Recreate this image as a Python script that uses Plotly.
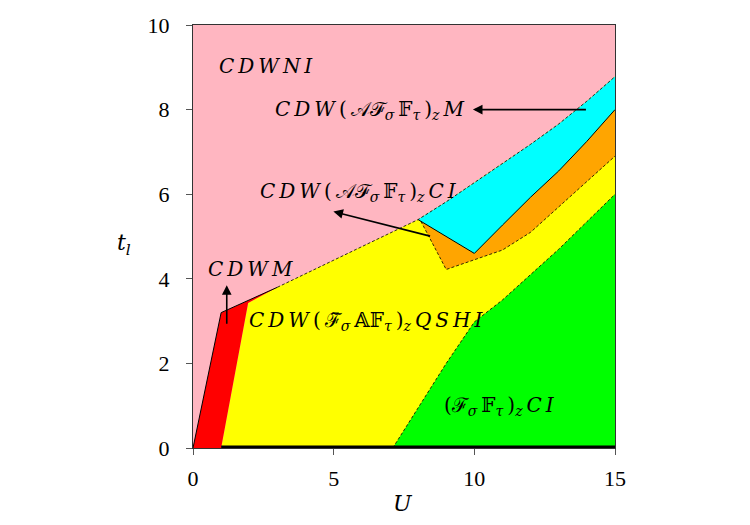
import plotly.graph_objects as go

# ---- data ----
red_x = [0, 1, 3, 1.96, 1]
red_y = [0, 3.2, 3.8, 3.43, 0]

yellow_left_x = [1, 1.96, 3]
yellow_left_y = [0, 3.43, 3.8]

pink_lower_x = [3, 4, 5, 6, 7, 8]
pink_lower_y = [3.8, 4.12, 4.44, 4.76, 5.08, 5.4]

cyan_top_x = [8, 9, 10, 11, 12, 13, 14, 15]
cyan_top_y = [5.4, 5.82, 6.27, 6.72, 7.18, 7.66, 8.2, 8.78]

cyan_bot_x = [8, 10, 11, 12, 13, 14, 15]
cyan_bot_y = [5.4, 4.6, 5.27, 5.93, 6.55, 7.25, 8.0]

orange_bot_x = [8.1, 9, 10, 11, 12, 13, 14, 15]
orange_bot_y = [5.36, 4.22, 4.45, 4.68, 5.1, 5.7, 6.3, 6.9]

green_top_x = [7.1, 8, 9, 10, 11, 12, 13, 14, 15]
green_top_y = [0, 0.95, 2.0, 2.98, 3.5, 4.1, 4.7, 5.35, 6.0]

x_max, y_min = 15, 0
bottom_line_x = [1, 15]
bottom_line_y = [0, 0]

T = "\u2009"  # thin space for TeX-like spacing
S = lambda s: "<sub><i>" + s + "</i></sub>"
labels = [
    ("<i>C" + T + "D" + T + "W" + T + "N" + T + "I</i>", 2.6, 9.03),
    ("<i>C" + T + "D" + T + "W</i>" + T + "(" + T + "𝒜ℱ" + S("σ") + T + "𝔽" + S("τ") + T + ")" + S("z") + T + "<i>M</i>", 6.29, 8.0),
    ("<i>C" + T + "D" + T + "W</i>" + T + "(" + T + "𝒜ℱ" + S("σ") + T + "𝔽" + S("τ") + T + ")" + S("z") + T + "<i>C" + T + "I</i>", 5.87, 6.05),
    ("<i>C" + T + "D" + T + "W" + T + "M</i>", 2.03, 4.23),
    ("<i>C" + T + "D" + T + "W</i>" + T + "(" + T + "ℱ̃" + S("σ") + T + "𝔸𝔽" + S("τ") + T + ")" + S("z") + T + "<i>Q" + T + "S" + T + "H" + T + "I</i>", 6.15, 3.0),
    ("(ℱ" + S("σ") + T + "𝔽" + S("τ") + T + ")" + S("z") + T + "<i>C" + T + "I</i>", 10.9, 0.99),
]

# arrows: (tail_x, tail_y, head_x, head_y)
arrows = [
    (1.2, 2.9, 1.2, 3.85),
    (8.48, 5.0, 4.99, 5.59),
    (14.02, 8.0, 9.95, 8.0),
]

PINK = "#FFB6C1"
RED = "#FF0000"
YELLOW = "#FFFF00"
CYAN = "#00FFFF"
ORANGE = "#FFA500"
GREEN = "#00FF00"

fig = go.Figure()

def poly(xs, ys, color):
    fig.add_trace(go.Scatter(x=xs, y=ys, fill="toself", fillcolor=color,
                             mode="lines", line=dict(width=0, color=color),
                             hoverinfo="skip", showlegend=False))

def line(xs, ys, dash="solid", width=0.9):
    fig.add_trace(go.Scatter(x=xs, y=ys, mode="lines",
                             line=dict(color="black", width=width, dash=dash),
                             hoverinfo="skip", showlegend=False))

# yellow region
yx = yellow_left_x + pink_lower_x[1:] + cyan_top_x[1:] + [x_max]
yy = yellow_left_y + pink_lower_y[1:] + cyan_top_y[1:] + [y_min]
poly(yx, yy, YELLOW)

# green
poly(green_top_x + [x_max], green_top_y + [y_min], GREEN)

# orange
ox = orange_bot_x + cyan_bot_x[::-1][:-1]
oy = orange_bot_y + cyan_bot_y[::-1][:-1]
poly(ox, oy, ORANGE)

# cyan
poly(cyan_top_x + cyan_bot_x[::-1], cyan_top_y + cyan_bot_y[::-1], CYAN)

# red
poly(red_x, red_y, RED)

DASH = "3px,2px"
line(pink_lower_x + cyan_top_x[1:], pink_lower_y + cyan_top_y[1:], DASH, 0.8)
line(cyan_bot_x, cyan_bot_y, "solid", 1.0)
line(orange_bot_x, orange_bot_y, DASH, 0.8)
line(green_top_x, green_top_y, DASH, 0.8)
line(red_x[:3], red_y[:3], "solid", 1.0)
line(bottom_line_x, bottom_line_y, "solid", 5)

FONT = "DejaVu Serif"
annotations = []
for txt, x, y in labels:
    annotations.append(dict(x=x, y=y, xref="x", yref="y", text=txt, showarrow=False,
                            font=dict(family=FONT, size=20, color="black")))
for tx, ty, hx, hy in arrows:
    annotations.append(dict(x=hx, y=hy, ax=tx, ay=ty, xref="x", yref="y", axref="x", ayref="y",
                            text="", showarrow=True, arrowhead=2, arrowsize=1.2,
                            arrowwidth=1.6, arrowcolor="black"))
annotations.append(dict(x=-0.163, y=0.48, xref="paper", yref="paper",
                        xanchor="center", yanchor="middle",
                        text="<i>t</i><sub><i>l</i></sub>", showarrow=False,
                        font=dict(family=FONT, size=22, color="black")))
annotations.append(dict(x=0.498, y=-0.132, xref="paper", yref="paper",
                        xanchor="center", yanchor="middle",
                        text="<i>U</i>", showarrow=False,
                        font=dict(family=FONT, size=22, color="black")))

axis_common = dict(showgrid=False, zeroline=False, showline=True, linecolor="#333",
                   linewidth=1, mirror=True, ticks="outside", ticklen=6, tickcolor="#555",
                   tickfont=dict(family="Liberation Serif", size=22, color="black"))

fig.update_layout(
    width=750, height=525,
    margin=dict(l=193, r=135, t=25, b=77),
    paper_bgcolor="white", plot_bgcolor=PINK,
    xaxis=dict(range=[0, 15], dtick=5, ticklabelstandoff=5, **axis_common),
    yaxis=dict(range=[0, 10], dtick=2, ticklabelstandoff=12, **axis_common),
    annotations=annotations,
    showlegend=False,
)

fig.write_html("out.html")
